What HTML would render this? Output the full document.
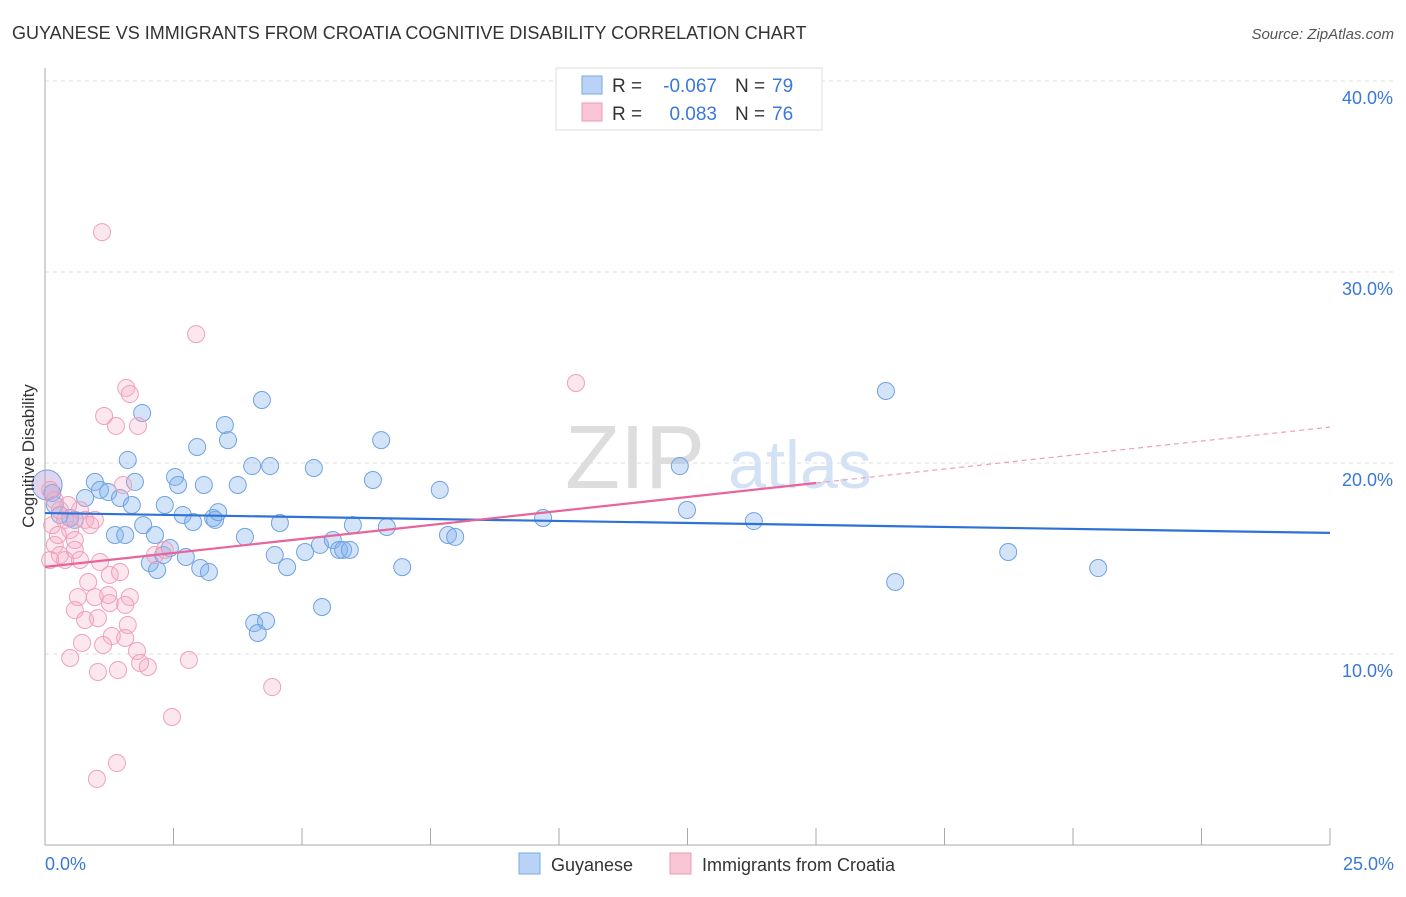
<!DOCTYPE html>
<html><head><meta charset="utf-8"><style>
body{margin:0;background:#fff;font-family:"Liberation Sans",sans-serif;}
svg text{font-family:"Liberation Sans",sans-serif;}
</style></head><body>
<svg id="chart" width="1406" height="892">
<text x="12" y="39" font-size="18" fill="#333">GUYANESE VS IMMIGRANTS FROM CROATIA COGNITIVE DISABILITY CORRELATION CHART</text>
<text x="1394" y="39" font-size="15" fill="#555" font-style="italic" text-anchor="end">Source: ZipAtlas.com</text>
<g id="grid"></g>
<text x="635" y="488" font-size="90" fill="#ddd" font-family="Liberation Serif" text-anchor="middle">ZIP</text>
<text x="800" y="488" font-size="68" fill="#d3e2f4" text-anchor="middle">atlas</text>
<line x1="45" y1="68" x2="45" y2="845" stroke="#aaa"/>
<line x1="45" y1="845" x2="1330" y2="845" stroke="#aaa"/>
<g id="marks"></g>
<text transform="translate(34,456) rotate(-90)" font-size="17" fill="#333" text-anchor="middle">Cognitive Disability</text>
<text x="45" y="870" font-size="18" fill="#3a78d8">0.0%</text>
<text x="1394" y="870" font-size="18" fill="#3a78d8" text-anchor="end">25.0%</text>
<g>
<rect x="556" y="68" width="266" height="62" fill="#fff" stroke="#ddd"/>
<rect x="582" y="76" width="20" height="18" fill="#b8d3f5" stroke="#7aa8e6"/>
<rect x="582" y="103" width="20" height="18" fill="#f9c6d6" stroke="#eb9ab4"/>
<text x="612" y="92" font-size="19" fill="#333">R =</text>
<text x="717" y="92" font-size="19" fill="#3a78d8" text-anchor="end">-0.067</text>
<text x="735" y="92" font-size="19" fill="#333">N =</text>
<text x="772" y="92" font-size="19" fill="#3a78d8">79</text>
<text x="612" y="120" font-size="19" fill="#333">R =</text>
<text x="717" y="120" font-size="19" fill="#3a78d8" text-anchor="end">0.083</text>
<text x="735" y="120" font-size="19" fill="#333">N =</text>
<text x="772" y="120" font-size="19" fill="#3a78d8">76</text>
</g>
<g>
<rect x="519" y="853" width="21" height="21" fill="#b8d3f5" stroke="#7aa8e6"/>
<text x="551" y="871" font-size="18" fill="#333">Guyanese</text>
<rect x="670" y="853" width="21" height="21" fill="#f9c6d6" stroke="#eb9ab4"/>
<text x="702" y="871" font-size="18" fill="#333">Immigrants from Croatia</text>
</g>
</svg>
<script>
const yTicks=[10,20,30,40];
const yTickLabels=["10.0%","20.0%","30.0%","40.0%"];
const xTicks=[0,2.5,5,7.5,10,12.5,15,17.5,20,22.5,25];
const blueX=[0.04,0.14,0.19,0.29,0.49,0.58,0.78,0.97,1.07,1.23,1.36,1.46,1.56,1.69,1.75,1.89,1.61,1.91,2.04,2.14,2.18,2.30,2.33,2.43,2.53,2.59,2.68,2.74,2.88,2.96,3.02,3.09,3.19,3.27,3.31,3.37,3.50,3.56,3.75,3.89,4.03,4.07,4.14,4.22,4.30,4.38,4.47,4.57,4.71,5.06,5.23,5.35,5.39,5.60,5.72,5.80,5.93,5.99,6.38,6.54,6.65,6.95,7.68,7.84,7.98,9.69,12.35,12.49,13.79,16.36,16.54,18.74,20.49];
const blueY=[18.85,18.43,17.80,17.28,17.12,17.02,18.17,19.01,18.59,18.48,16.23,18.17,16.23,17.80,19.01,22.62,20.16,16.75,14.76,16.23,14.40,15.18,17.80,15.55,19.27,18.85,17.28,15.08,16.91,20.84,14.50,18.85,14.29,17.12,17.02,17.43,21.99,21.20,18.85,16.13,19.84,11.62,11.10,23.30,11.73,19.84,15.18,16.86,14.55,15.34,19.74,15.71,12.46,15.97,15.45,15.45,15.45,16.75,19.11,21.20,16.65,14.55,18.59,16.23,16.13,17.12,19.84,17.54,16.96,23.77,13.77,15.34,14.50];
const pinkX=[1.11,2.94,10.33,1.58,1.65,1.15,1.81,1.38,0.10,0.19,0.29,0.39,0.49,0.58,0.68,0.78,0.88,0.97,0.19,0.29,0.39,0.10,0.58,0.68,1.07,1.26,1.46,0.84,0.97,0.64,0.58,1.23,1.26,1.65,1.56,0.78,1.03,1.61,1.30,1.56,0.72,1.13,1.79,1.85,2.00,0.49,1.03,1.42,2.80,4.42,2.47,1.40,1.01,2.14,2.33,1.52,0.14,0.25,0.45];
const pinkY=[32.09,26.75,24.19,23.93,23.61,22.46,21.94,21.94,18.59,18.06,17.54,17.02,16.49,15.97,17.54,17.02,16.75,17.02,15.71,15.18,14.92,14.92,15.45,14.92,14.82,14.14,14.29,13.77,12.98,12.98,12.30,13.09,12.67,12.98,12.57,11.78,11.88,11.52,10.94,10.84,10.58,10.47,10.16,9.53,9.32,9.79,9.06,9.16,9.69,8.27,6.70,4.29,3.46,15.18,15.45,18.85,16.75,16.23,17.80];
const blueTrend=[17.38,16.34];
const pinkTrend=[14.56,21.88];
const pinkSolidEnd=15;
const NS="http://www.w3.org/2000/svg";
const xs=v=>45+v*(1285/25);
const ys=v=>845-v*19.1;
const grid=document.getElementById('grid'),marks=document.getElementById('marks');
function mk(tag,attrs,parent){const e=document.createElementNS(NS,tag);for(const k in attrs)e.setAttribute(k,attrs[k]);parent.appendChild(e);return e;}
yTicks.forEach((t,i)=>{
 const l=mk('line',{x1:45,x2:1394,y1:ys(t),y2:ys(t),stroke:'#ddd','stroke-dasharray':'4,4'},grid);
 
 
 const tx=mk('text',{x:1393,y:ys(t)+23,'font-size':18,fill:'#3a78d8','text-anchor':'end'},grid);
 tx.textContent=yTickLabels[i];
 
 
});
xTicks.forEach(t=>{
 const l=mk('line',{x1:xs(t),x2:xs(t),y1:828,y2:845,stroke:'#aaa'},grid);
 
 
});
blueX.forEach((x,i)=>{
 const c=mk('circle',{cx:xs(x),cy:ys(blueY[i]),r:i===0?15:8.5,fill:i===0?'rgba(180,150,210,0.4)':'rgba(130,178,238,0.35)',stroke:'#6fa2e2','stroke-width':1},marks);
 
 
});
pinkX.forEach((x,i)=>{
 const c=mk('circle',{cx:xs(x),cy:ys(pinkY[i]),r:8.5,fill:'rgba(245,170,196,0.28)',stroke:'#efa0ba','stroke-width':1},marks);
 
 
});
const bl=mk('line',{x1:xs(0),y1:ys(blueTrend[0]),x2:xs(25),y2:ys(blueTrend[1]),stroke:'#2f72d6','stroke-width':2.2},marks);


const pAt=v=>pinkTrend[0]+(pinkTrend[1]-pinkTrend[0])*v/25;
const pl=mk('line',{x1:xs(0),y1:ys(pAt(0)),x2:xs(pinkSolidEnd),y2:ys(pAt(pinkSolidEnd)),stroke:'#e8649a','stroke-width':2.2},marks);


const pd=mk('line',{x1:xs(pinkSolidEnd),y1:ys(pAt(pinkSolidEnd)),x2:xs(25),y2:ys(pAt(25)),stroke:'#eaa0bd','stroke-width':1.2,'stroke-dasharray':'5,4'},marks);


</script>
</body></html>
